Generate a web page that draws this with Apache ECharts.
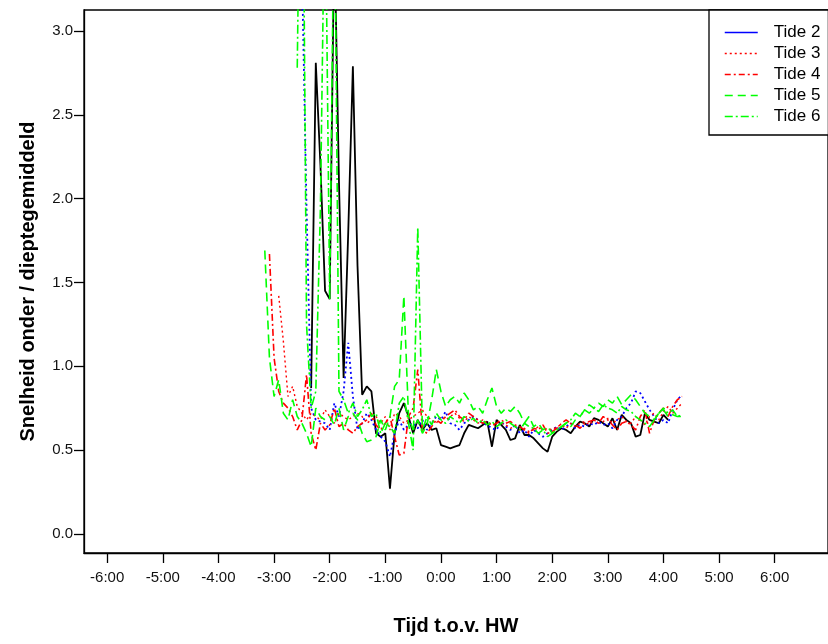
<!DOCTYPE html>
<html>
<head>
<meta charset="utf-8">
<script src="https://cdn.jsdelivr.net/npm/echarts@6/dist/echarts.min.js"></script>
<style>html,body{margin:0;padding:0;background:#fff}#c{width:828px;height:644px}</style>
</head>
<body>
<div id="c"></div>
<script>
// time in minutes relative to HW; samples every 5 minutes from the start minute
const stepMin = 5;
const xTicks = [-6, -5, -4, -3, -2, -1, 0, 1, 2, 3, 4, 5, 6];
const yTicks = [0, 0.5, 1, 1.5, 2, 2.5, 3];
const legendNames = ['Tide 2', 'Tide 3', 'Tide 4', 'Tide 5', 'Tide 6'];

const tide1Start = -140;
const tide1 = [0.87, 2.81, 2.20, 1.45, 1.40, 3.60, 2.10, 0.93, 1.80, 2.79, 1.60, 0.83, 0.88, 0.85, 0.60, 0.58, 0.60, 0.27, 0.60, 0.72,
  0.78, 0.70, 0.60, 0.68, 0.62, 0.66, 0.62, 0.63, 0.53, 0.52, 0.51, 0.52, 0.53, 0.60, 0.65, 0.64, 0.63, 0.65, 0.67, 0.52,
  0.68, 0.65, 0.62, 0.56, 0.57, 0.65, 0.59, 0.59, 0.57, 0.54, 0.51, 0.49, 0.58, 0.61, 0.63, 0.62, 0.60, 0.64, 0.67, 0.66,
  0.64, 0.69, 0.68, 0.66, 0.64, 0.69, 0.62, 0.71, 0.68, 0.66, 0.58, 0.59, 0.72, 0.68, 0.67, 0.66, 0.71, 0.68];

const tide2Start = -150;
const tide2 = [3.40, 1.95, 0.75, 0.68, 0.67, 0.66, 0.62, 0.78, 0.70, 0.85, 1.14, 0.82, 0.62, 0.66, 0.72, 0.68, 0.62, 0.58, 0.55, 0.46,
  0.60, 0.68, 0.62, 0.65, 0.66, 0.63, 0.68, 0.62, 0.66, 0.70, 0.68, 0.73, 0.66, 0.65, 0.62, 0.66, 0.68, 0.70, 0.68, 0.66,
  0.65, 0.63, 0.62, 0.67, 0.64, 0.62, 0.65, 0.60, 0.62, 0.58, 0.62, 0.60, 0.58, 0.60, 0.62, 0.64, 0.62, 0.64, 0.66, 0.63,
  0.65, 0.64, 0.66, 0.65, 0.67, 0.65, 0.66, 0.63, 0.68, 0.70, 0.75, 0.78, 0.85, 0.84, 0.79, 0.74, 0.70, 0.66, 0.68, 0.66,
  0.74, 0.80, 0.83];

const tide3Start = -175;
const tide3 = [1.42, 1.15, 0.82, 0.88, 0.76, 0.72, 0.68, 0.72, 0.70, 0.68, 0.74, 0.70, 0.66, 0.72, 0.70, 0.68, 0.70, 0.72, 0.70, 0.66,
  0.68, 0.70, 0.66, 0.70, 0.62, 0.72, 0.70, 0.66, 0.68, 0.70, 0.72, 0.74, 0.70, 0.68, 0.66, 0.70, 0.68, 0.70, 0.72, 0.69,
  0.67, 0.70, 0.68, 0.66, 0.68, 0.65, 0.66, 0.64, 0.66, 0.65, 0.63, 0.64, 0.62, 0.63, 0.61, 0.62, 0.64, 0.62, 0.63, 0.62,
  0.64, 0.65, 0.63, 0.66, 0.64, 0.66, 0.67, 0.65, 0.68, 0.66, 0.67, 0.69, 0.66, 0.68, 0.70, 0.67, 0.66, 0.70, 0.68, 0.65,
  0.70, 0.72, 0.68, 0.73, 0.76, 0.72, 0.75, 0.78];

const tide4Start = -185;
const tide4 = [1.67, 1.05, 0.85, 0.78, 0.75, 0.70, 0.62, 0.68, 0.95, 0.60, 0.50, 0.66, 0.62, 0.65, 0.75, 0.64, 0.66, 0.62, 0.60, 0.64,
  0.66, 0.68, 0.72, 0.65, 0.62, 0.66, 0.70, 0.58, 0.47, 0.48, 0.70, 0.75, 0.98, 0.62, 0.60, 0.64, 0.68, 0.66, 0.70, 0.72,
  0.74, 0.70, 0.68, 0.72, 0.70, 0.68, 0.66, 0.67, 0.65, 0.66, 0.68, 0.66, 0.67, 0.65, 0.64, 0.62, 0.60, 0.63, 0.62, 0.65,
  0.60, 0.61, 0.63, 0.66, 0.68, 0.66, 0.65, 0.63, 0.66, 0.67, 0.68, 0.66, 0.70, 0.68, 0.65, 0.62, 0.66, 0.67, 0.65, 0.62,
  0.70, 0.74, 0.60, 0.68, 0.72, 0.75, 0.70, 0.76, 0.80, 0.82];

const tide5Start = -190;
const tide5 = [1.69, 1.05, 0.82, 0.92, 0.72, 0.68, 0.80, 0.70, 0.66, 0.60, 0.52, 0.75, 0.70, 0.68, 0.70, 0.65, 0.75, 0.62, 0.70, 0.72,
  0.68, 0.60, 0.55, 0.56, 0.58, 0.68, 0.62, 0.70, 0.88, 0.92, 1.42, 0.70, 0.62, 0.68, 0.60, 0.65, 0.80, 0.98, 0.85, 0.76,
  0.80, 0.82, 0.78, 0.84, 0.80, 0.74, 0.76, 0.72, 0.80, 0.87, 0.76, 0.72, 0.75, 0.73, 0.76, 0.72, 0.66, 0.70, 0.64, 0.66,
  0.62, 0.64, 0.60, 0.62, 0.64, 0.66, 0.64, 0.68, 0.70, 0.74, 0.77, 0.75, 0.78, 0.76, 0.80, 0.78, 0.82, 0.77, 0.80, 0.83,
  0.80, 0.76, 0.72, 0.70, 0.68, 0.72, 0.74, 0.70, 0.71, 0.70, 0.70];

const tide6Start = -155;
const tide6 = [2.78, 5.00, 1.25, 0.75, 0.85, 1.95, 4.00, 1.40, 4.00, 0.85, 0.80, 0.72, 0.78, 0.70, 0.74, 0.80, 0.70, 0.72, 0.60, 0.66,
  0.64, 0.60, 0.78, 0.82, 0.66, 0.50, 1.83, 0.62, 0.70, 0.65, 0.72, 0.68, 0.66, 0.70, 0.68, 0.66, 0.70, 0.67, 0.69, 0.66,
  0.68, 0.65, 0.67, 0.64, 0.66, 0.68, 0.66, 0.64, 0.62, 0.66, 0.64, 0.63, 0.60, 0.62, 0.58, 0.60, 0.62, 0.64, 0.66, 0.68,
  0.72, 0.70, 0.74, 0.72, 0.75, 0.73, 0.77, 0.75, 0.74, 0.72, 0.76, 0.74, 0.73, 0.70, 0.68, 0.66, 0.64, 0.68, 0.72, 0.75,
  0.72, 0.74, 0.70, 0.71];

function toPairs(start, vals) {
  return vals.map((v, i) => [(start + i * stepMin) / 60, v]);
}

const chart = echarts.init(document.getElementById('c'), null, {renderer: 'canvas'});
const FONT = 'Liberation Sans, Arial, sans-serif';

function line(name, start, vals, color, type, width) {
  return {
    name: name, type: 'line', data: toPairs(start, vals), symbol: 'none', showSymbol: false,
    lineStyle: {color: color, type: type, width: width}, itemStyle: {color: color},
    emphasis: {disabled: true}, animation: false, clip: true
  };
}

const legendStyles = {
  'Tide 2': {type: 'solid', color: '#0000ff', width: 1.5},
  'Tide 3': {type: [2, 3], color: '#ff0000', width: 1.3},
  'Tide 4': {type: [6, 3, 2, 3], color: '#ff0000', width: 1.5},
  'Tide 5': {type: [8, 5], color: '#00ff00', width: 1.5},
  'Tide 6': {type: [8, 3, 2, 3], color: '#00ff00', width: 1.5}
};

chart.setOption({
  backgroundColor: '#fff',
  animation: false,
  grid: {left: 84, top: 10, right: -3, bottom: 91, show: true, borderColor: '#000', borderWidth: 1.3, containLabel: false},
  legend: {
    orient: 'vertical', left: 709, top: 10,
    padding: [14, 8, 10, 15], itemGap: 4, itemWidth: 33, itemHeight: 14,
    borderColor: '#000', borderWidth: 1.3, backgroundColor: '#fff',
    itemStyle: {opacity: 0, borderWidth: 0},
    textStyle: {fontSize: 17, color: '#000', fontFamily: FONT, padding: [0, 0, 0, 11]},
    data: legendNames.map(n => ({name: n, itemStyle: {opacity: 0, borderWidth: 0},
      lineStyle: Object.assign({opacity: 1}, legendStyles[n])}))
  },
  xAxis: {
    type: 'value', min: -6.417, max: 6.958,
    name: 'Tijd t.o.v. HW', nameLocation: 'middle', nameGap: 63,
    nameTextStyle: {fontSize: 20, fontWeight: 'bold', color: '#000', fontFamily: FONT},
    axisLine: {show: true, onZero: false, lineStyle: {color: '#000', width: 1.3}},
    axisTick: {show: true, length: 10, inside: false, customValues: xTicks, lineStyle: {color: '#000', width: 1.3}},
    axisLabel: {customValues: xTicks, margin: 17, fontSize: 15, color: '#111', fontFamily: FONT,
      formatter: v => (v < 0 ? '-' : '') + Math.abs(v) + ':00'},
    splitLine: {show: false}
  },
  yAxis: {
    type: 'value', min: -0.114, max: 3.125,
    name: 'Snelheid onder / dieptegemiddeld', nameLocation: 'middle', nameGap: 46, nameRotate: 90,
    nameTextStyle: {fontSize: 20, fontWeight: 'bold', color: '#000', fontFamily: FONT},
    axisLine: {show: true, onZero: false, lineStyle: {color: '#000', width: 1.3}},
    axisTick: {show: true, length: 10, inside: false, customValues: yTicks, lineStyle: {color: '#000', width: 1.3}},
    axisLabel: {customValues: yTicks, margin: 11, fontSize: 15, color: '#111', fontFamily: FONT,
      formatter: v => Number(v).toFixed(1)},
    splitLine: {show: false}
  },
  series: [
    line('Tide 1', tide1Start, tide1, '#000000', 'solid', 1.8),
    line('Tide 2', tide2Start, tide2, '#0000ff', [2, 3], 1.8),
    line('Tide 3', tide3Start, tide3, '#ff0000', [2, 3], 1.4),
    line('Tide 4', tide4Start, tide4, '#ff0000', [7, 3, 2, 3], 1.6),
    line('Tide 5', tide5Start, tide5, '#00ff00', [9, 5], 1.6),
    line('Tide 6', tide6Start, tide6, '#00ff00', [9, 3, 2, 3], 1.6)
  ]
});
</script>
</body>
</html>
